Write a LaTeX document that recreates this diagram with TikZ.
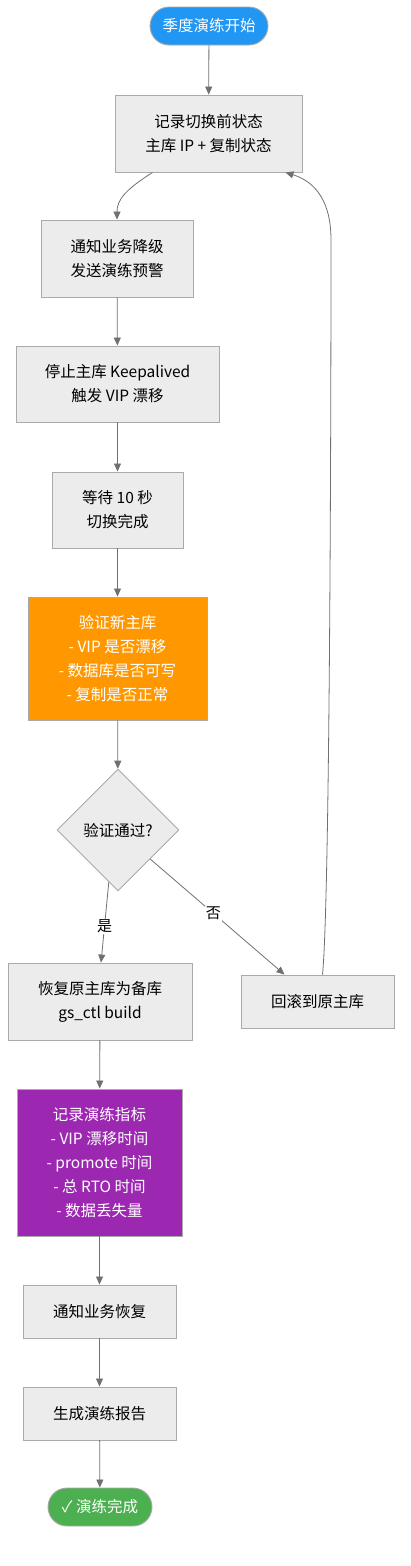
\documentclass[tikz,border=0pt]{standalone}
\usepackage{fontspec}
\setmainfont{Noto Sans CJK SC}
\usetikzlibrary{shapes.geometric,shapes.misc,arrows.meta,calc}
\definecolor{boxfill}{HTML}{ECECEC}
\definecolor{boxdraw}{HTML}{AAAAAA}
\definecolor{edgec}{HTML}{707070}
\definecolor{startc}{HTML}{2196F3}
\definecolor{orangec}{HTML}{FF9800}
\definecolor{purplec}{HTML}{9C27B0}
\definecolor{greenc}{HTML}{4CAF50}
\tikzset{
  base/.style={font=\fontsize{15.5}{24}\selectfont, align=center, inner sep=0pt, line width=0.9pt},
  proc/.style={base, rectangle, fill=boxfill, draw=boxdraw},
  term/.style={base, rounded rectangle, draw=boxdraw, text=white},
  dec/.style={base, diamond, fill=boxfill, draw=boxdraw, aspect=1},
  edge/.style={draw=edgec, line width=0.8pt, -{Triangle[length=8pt,width=7pt]}},
  lbl/.style={font=\fontsize{15}{18}\selectfont, fill=white, inner sep=1pt}
}
\begin{document}
\begin{tikzpicture}[x=1pt,y=-1pt]
\useasboundingbox (0,0) rectangle (410,1566);
\node[term, fill=startc, minimum width=118pt, minimum height=38pt] (s) at (209,26) {季度演练开始};
\node[proc, minimum width=187pt, minimum height=77pt] (n1) at (208.5,133.5) {记录切换前状态\\主库 IP + 复制状态};
\node[proc, minimum width=152pt, minimum height=77pt] (n2) at (117,258.5) {通知业务降级\\发送演练预警};
\node[proc, minimum width=203pt, minimum height=76pt] (n3) at (117.5,384) {停止主库 Keepalived\\触发 VIP 漂移};
\node[proc, minimum width=131pt, minimum height=76pt] (n4) at (117.5,510) {等待 10 秒\\切换完成};
\node[proc, fill=orangec, text=white, minimum width=179pt, minimum height=123pt] (n5) at (117.5,658.5) {验证新主库\\- VIP 是否漂移\\- 数据库是否可写\\- 复制是否正常};
\node[dec, minimum width=122pt, minimum height=122pt] (d) at (118,830) {验证通过?};
\node[proc, minimum width=184pt, minimum height=77pt] (n6) at (100,1001.5) {恢复原主库为备库\\gs\_ctl build};
\node[proc, minimum width=153pt, minimum height=53pt] (rb) at (317.5,1001.5) {回滚到原主库};
\node[proc, fill=purplec, text=white, minimum width=165pt, minimum height=147pt] (n7) at (99.5,1162.5) {记录演练指标\\- VIP 漂移时间\\- promote 时间\\- 总 RTO 时间\\- 数据丢失量};
\node[proc, minimum width=153pt, minimum height=53pt] (n8) at (99.5,1311.5) {通知业务恢复};
\node[proc, minimum width=153pt, minimum height=53pt] (n9) at (99.5,1413.5) {生成演练报告};
\node[term, fill=greenc, minimum width=104pt, minimum height=38pt] (e) at (100,1507) {✓ 演练完成};

\draw[edge] (s) -- (n1);
\draw[edge] ([xshift=-56pt]n1.south) .. controls (125,190) and (117,200) .. (n2.north);
\draw[edge] (n2) -- (n3);
\draw[edge] (n3) -- (n4);
\draw[edge] (n4) -- (n5);
\draw[edge] (n5) -- (d);
\draw[edge] (d.-100) -- node[lbl, pos=0.55] {是} ([xshift=1pt]n6.north);
\draw[edge] (d.-42) -- node[lbl, pos=0.47] {否} ([xshift=-33pt]rb.north);
\draw[edge] ([xshift=5pt]rb.north) .. controls (330,900) and (331,400) .. (331,240) .. controls (331,195) and (310,180) .. ([xshift=-17pt]n1.south east);
\draw[edge] (n6) -- (n7);
\draw[edge] (n7) -- (n8);
\draw[edge] (n8) -- (n9);
\draw[edge] (n9) -- (e);
\end{tikzpicture}
\end{document}
